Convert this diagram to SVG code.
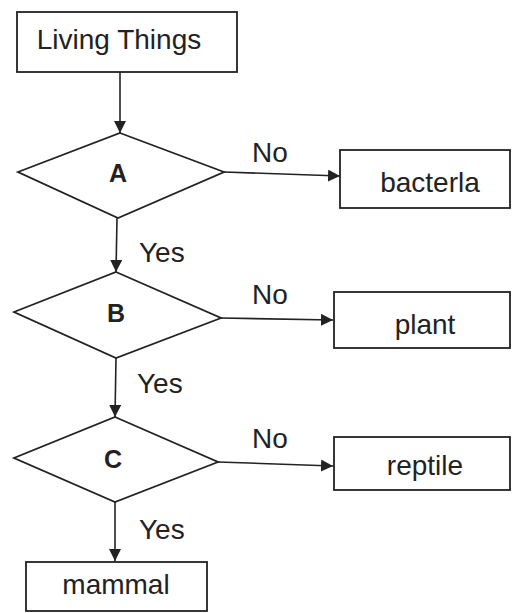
<svg xmlns="http://www.w3.org/2000/svg" width="512" height="613" viewBox="0 0 512 613">
<style>
.b{fill:#fff;stroke:#222;stroke-width:1.8}
.t{font-family:"Liberation Sans",Arial,sans-serif;font-size:28px;fill:#222;text-anchor:middle}
.l{font-family:"Liberation Sans",Arial,sans-serif;font-size:28px;fill:#222}
.d{font-family:"Liberation Sans",Arial,sans-serif;font-size:25px;font-weight:bold;fill:#222;text-anchor:middle}
.c{fill:none;stroke:#222;stroke-width:1.6}
</style>
<defs>
<marker id="ah" viewBox="0 0 10 10" refX="10" refY="5" markerWidth="12" markerHeight="12" markerUnits="userSpaceOnUse" orient="auto">
<path d="M0,0 L10,5 L0,10 z" fill="#222"/>
</marker>
</defs>
<rect width="512" height="613" fill="#fff"/>
<g id="connectors">
<path class="c" d="M120,72 L120,133" marker-end="url(#ah)"/>
<path class="c" d="M224,172 L340,176" marker-end="url(#ah)"/>
<path class="c" d="M117,218 L116,272" marker-end="url(#ah)"/>
<path class="c" d="M221,318 L333,320" marker-end="url(#ah)"/>
<path class="c" d="M116,358 L115,417" marker-end="url(#ah)"/>
<path class="c" d="M218,462 L333,466" marker-end="url(#ah)"/>
<path class="c" d="M115,502 L115,561" marker-end="url(#ah)"/>
<text class="l" x="252" y="162">No</text>
<text class="l" x="139" y="262">Yes</text>
<text class="l" x="252" y="304">No</text>
<text class="l" x="137" y="393">Yes</text>
<text class="l" x="252" y="448">No</text>
<text class="l" x="139" y="539">Yes</text>
</g>
<g id="living"><rect class="b" x="17" y="12" width="220" height="60"/><text class="t" x="119" y="49">Living Things</text></g>
<g id="A"><path class="b" d="M120,133 L224,172 L118,218 L18,172 z"/><text class="d" x="118" y="182">A</text></g>
<g id="bacteria"><rect class="b" x="340" y="150" width="170" height="58"/><text class="t" x="430" y="192">bacterla</text></g>
<g id="B"><path class="b" d="M116,272 L221,318 L116,358 L14,312 z"/><text class="d" x="116" y="322">B</text></g>
<g id="plant"><rect class="b" x="334" y="292" width="176" height="56"/><text class="t" x="425" y="334">plant</text></g>
<g id="C"><path class="b" d="M115,417 L218,462 L115,502 L14,458 z"/><text class="d" x="113" y="468">C</text></g>
<g id="reptile"><rect class="b" x="334" y="437" width="176" height="53"/><text class="t" x="425" y="475">reptile</text></g>
<g id="mammal"><rect class="b" x="26" y="562" width="181" height="49"/><text class="t" x="116" y="594">mammal</text></g>
</svg>
